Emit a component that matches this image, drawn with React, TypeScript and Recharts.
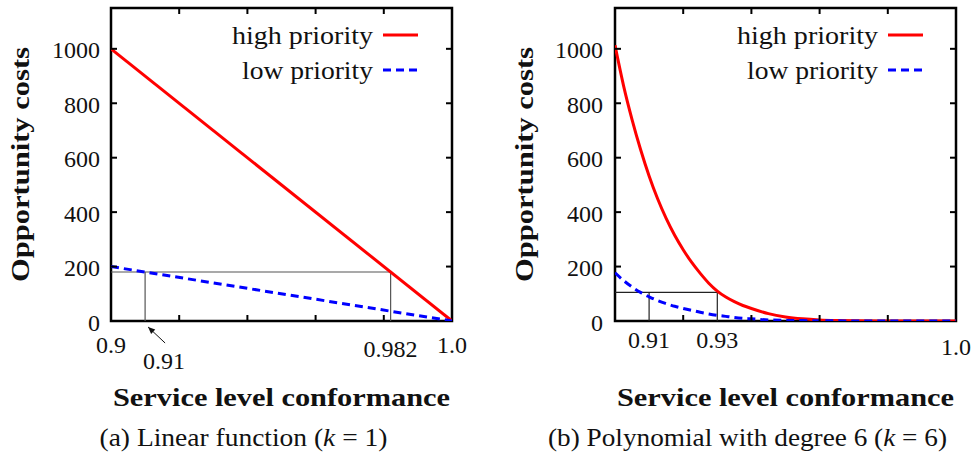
import React from 'react';
import {
  LineChart,
  Line,
  XAxis,
  YAxis,
  ReferenceLine,
  ReferenceArea,
  Legend,
  Label,
} from 'recharts';

// shared axes
const X_DOMAIN = [0.9, 1.0];
const Y_DOMAIN = [0, 1150];
const X_TICKS = [0.9, 0.92, 0.94, 0.96, 0.98, 1.0];
const Y_TICKS = [0, 200, 400, 600, 800, 1000];

// (a) linear function, k = 1
const LIN_X = [0.9, 1.0];
const LIN_HIGH = [1000, 0];
const LIN_LOW = [200, 0];
const LIN_LABELS = [0.9, 0.91, 0.982, 1.0];
const LIN_LABEL_TEXT = ['0.9', '0.91', '0.982', '1.0'];
const LIN_BOX_Y = 180;
const LIN_BOX_X = [0.91, 0.982];

// (b) polynomial with degree 6, k = 6
const POLY_X = [
  0.9, 0.9025, 0.905, 0.9075, 0.91, 0.9125, 0.915, 0.9175, 0.92, 0.9225, 0.925, 0.9275,
  0.93, 0.9325, 0.935, 0.9375, 0.94, 0.945, 0.95, 0.955, 0.96, 0.965, 0.97, 0.98, 1.0,
];
const POLY_HIGH = [
  1013, 865, 740, 630, 533, 449, 377, 315, 262, 215, 175, 139,
  110, 88, 71, 57, 46, 27, 15, 8, 4, 2, 1, 0, 0,
];
const POLY_LOW = [
  177, 149, 125, 105, 89, 75, 64, 54, 46, 39, 32, 26,
  21, 17, 13, 10, 8, 4, 2.5, 1.5, 1, 0.5, 0.2, 0, 0,
];
const POLY_LABELS = [0.91, 0.93, 1.0];
const POLY_LABEL_TEXT = ['0.91', '0.93', '1.0'];
const POLY_BOX_Y = 105;
const POLY_BOX_X = [0.91, 0.93];

const FONT = "'Liberation Serif', serif";
const RED = '#ff0000';
const BLUE = '#0000ff';
const DASH = '8 5';
const PLOT_H = 313;
const TICK_LEN = 6;
const TICK_FONT = 24;
// widths of the wide (extended) lettering
const LEGEND_WIDTH: Record<string, number> = { 'high priority': 141, 'low priority': 131 };
const X_TITLE_WIDTH = 337;
const Y_TITLE_WIDTH = 235;

type Pt = { x: number; y: number };
type LabelPos = { dx?: number; dy: number; arrow?: { from: number[]; to: number[] } };

const toPoints = (xs: number[], ys: number[]): Pt[] => xs.map((x, i) => ({ x, y: ys[i] }));

interface PanelProps {
  left: number;
  width: number;
  margin: { top: number; right: number; bottom: number; left: number };
  high: Pt[];
  low: Pt[];
  curve: 'linear' | 'monotone';
  labels: number[];
  labelText: string[];
  labelPos: Record<string, LabelPos>;
  boxY: number;
  boxX: number[];
  boxStroke: string;
  yLabelGap: number;
  legendLeft: number;
  caption: React.ReactNode;
  captionWidth: number;
}

const arrowHead = (from: number[], to: number[]) => {
  const dx = to[0] - from[0];
  const dy = to[1] - from[1];
  const len = Math.hypot(dx, dy);
  const ux = dx / len;
  const uy = dy / len;
  const bx = to[0] - ux * 7;
  const by = to[1] - uy * 7;
  return `${to[0]},${to[1]} ${bx - uy * 3},${by + ux * 3} ${bx + uy * 3},${by - ux * 3}`;
};

const renderXTick = (p: PanelProps) => (props: any) => {
  const { x, y, payload } = props;
  const v: number = payload.value;
  const major = X_TICKS.includes(v) && v !== X_DOMAIN[0] && v !== X_DOMAIN[1];
  const li = p.labels.indexOf(v);
  const text = li >= 0 ? p.labelText[li] : null;
  const pos: LabelPos | null = text ? p.labelPos[text] ?? { dy: 24 } : null;
  return (
    <g>
      {major && (
        <>
          <line x1={x} x2={x} y1={y} y2={y - TICK_LEN} stroke="#000" strokeWidth={2} />
          <line x1={x} x2={x} y1={y - PLOT_H} y2={y - PLOT_H + TICK_LEN} stroke="#000" strokeWidth={2} />
        </>
      )}
      {text && pos && (
        <text
          x={x + (pos.dx ?? 0)}
          y={y + pos.dy}
          textAnchor="middle"
          dominantBaseline="central"
          fontFamily={FONT}
          fontSize={TICK_FONT}
          fill="#111"
        >
          {text}
        </text>
      )}
      {pos?.arrow && (
        <>
          <line
            x1={x + pos.arrow.from[0]}
            y1={y + pos.arrow.from[1]}
            x2={x + pos.arrow.to[0]}
            y2={y + pos.arrow.to[1]}
            stroke="#111"
            strokeWidth={1}
          />
          <polygon
            points={arrowHead(
              [x + pos.arrow.from[0], y + pos.arrow.from[1]],
              [x + pos.arrow.to[0], y + pos.arrow.to[1]]
            )}
            fill="#111"
          />
        </>
      )}
    </g>
  );
};

const renderYTick = (p: PanelProps, plotW: number) => (props: any) => {
  const { x, y, payload } = props;
  const v: number = payload.value;
  return (
    <g>
      {v !== 0 && (
        <>
          <line x1={x} x2={x + TICK_LEN} y1={y} y2={y} stroke="#000" strokeWidth={2} />
          <line x1={x + plotW - TICK_LEN} x2={x + plotW} y1={y} y2={y} stroke="#000" strokeWidth={2} />
        </>
      )}
      <text
        x={x - p.yLabelGap}
        y={y + 1.5}
        textAnchor="end"
        dominantBaseline="central"
        fontFamily={FONT}
        fontSize={TICK_FONT}
        fill="#111"
      >
        {v}
      </text>
    </g>
  );
};

const renderLegend = (props: any) => {
  const { payload } = props;
  return (
    <svg width={200} height={80}>
      {(payload ?? []).map((entry: any, i: number) => (
        <g key={entry.value}>
          <text
            x={150}
            y={17 + i * 35}
            textAnchor="end"
            dominantBaseline="central"
            fontFamily={FONT}
            fontSize={25}
            fill="#111"
            textLength={LEGEND_WIDTH[entry.value]}
            lengthAdjust="spacingAndGlyphs"
          >
            {entry.value}
          </text>
          <line
            x1={160}
            x2={195}
            y1={17 + i * 35}
            y2={17 + i * 35}
            stroke={entry.color}
            strokeWidth={3}
            strokeDasharray={entry.payload?.strokeDasharray}
          />
        </g>
      ))}
    </svg>
  );
};

const Panel: React.FC<PanelProps> = (p) => {
  // axes take 1px each, the rest of the offset is margin
  const plotW = p.width - p.margin.left - p.margin.right - 1;
  const ticks = Array.from(new Set([...X_TICKS, ...p.labels])).sort((a, b) => a - b);
  const boxEnd = p.boxX[p.boxX.length - 1];

  return (
    <div style={{ position: 'absolute', left: p.left, top: 0 }}>
      <LineChart width={p.width} height={452} margin={p.margin}>
        <XAxis
          dataKey="x"
          type="number"
          domain={X_DOMAIN}
          allowDataOverflow
          ticks={ticks}
          interval={0}
          height={1}
          tickSize={0}
          tickMargin={0}
          axisLine={false}
          tickLine={false}
          tick={renderXTick(p)}
        >
          <Label
            content={(lp: any) => {
              const vb = lp.viewBox;
              const cx = vb.x + vb.width / 2;
              return (
                <g fontFamily={FONT} fill="#111">
                  <text
                    x={cx}
                    y={vb.y + 76}
                    textAnchor="middle"
                    dominantBaseline="central"
                    fontSize={26}
                    fontWeight="bold"
                    textLength={X_TITLE_WIDTH}
                    lengthAdjust="spacingAndGlyphs"
                  >
                    Service level conformance
                  </text>
                  <text
                    x={cx - 38}
                    y={vb.y + 116}
                    textAnchor="middle"
                    dominantBaseline="central"
                    fontSize={25}
                    textLength={p.captionWidth}
                    lengthAdjust="spacingAndGlyphs"
                  >
                    {p.caption}
                  </text>
                </g>
              );
            }}
          />
        </XAxis>
        <YAxis
          type="number"
          domain={Y_DOMAIN}
          allowDataOverflow
          ticks={Y_TICKS}
          interval={0}
          width={1}
          tickSize={0}
          tickMargin={0}
          axisLine={false}
          tickLine={false}
          tick={renderYTick(p, plotW)}
        >
          <Label
            content={(lp: any) => {
              const vb = lp.viewBox;
              const cx = vb.x + vb.width - 91;
              const cy = vb.y + vb.height / 2;
              return (
                <text
                  x={cx}
                  y={cy}
                  transform={`rotate(-90 ${cx} ${cy})`}
                  textAnchor="middle"
                  dominantBaseline="central"
                  fontFamily={FONT}
                  fontSize={26}
                  fontWeight="bold"
                  fill="#111"
                  textLength={Y_TITLE_WIDTH}
                  lengthAdjust="spacingAndGlyphs"
                >
                  Opportunity costs
                </text>
              );
            }}
          />
        </YAxis>

        {/* guide box between the two curves */}
        <ReferenceLine
          segment={[{ x: X_DOMAIN[0], y: p.boxY }, { x: boxEnd, y: p.boxY }]}
          stroke={p.boxStroke}
          strokeWidth={1.2}
        />
        {p.boxX.map((bx) => (
          <ReferenceLine
            key={bx}
            segment={[{ x: bx, y: 0 }, { x: bx, y: p.boxY }]}
            stroke={p.boxStroke}
            strokeWidth={1.2}
          />
        ))}

        <Line
          data={p.high}
          dataKey="y"
          name="high priority"
          type={p.curve}
          stroke={RED}
          strokeWidth={3}
          dot={false}
          activeDot={false}
          isAnimationActive={false}
        />
        <Line
          data={p.low}
          dataKey="y"
          name="low priority"
          type={p.curve}
          stroke={BLUE}
          strokeWidth={3}
          strokeDasharray={DASH}
          dot={false}
          activeDot={false}
          isAnimationActive={false}
        />

        <ReferenceArea
          x1={X_DOMAIN[0]}
          x2={X_DOMAIN[1]}
          y1={Y_DOMAIN[0]}
          y2={Y_DOMAIN[1]}
          fill="none"
          fillOpacity={0}
          stroke="#000"
          strokeWidth={2.5}
        />

        <Legend
          layout="vertical"
          align="center"
          verticalAlign="middle"
          content={renderLegend}
          wrapperStyle={{ left: p.legendLeft, top: 18, width: 200, height: 80 }}
        />
      </LineChart>
    </div>
  );
};

const App: React.FC = () => {
  return (
    <div
      style={{
        position: 'absolute',
        left: 0,
        top: 0,
        width: 975,
        height: 452,
        background: '#fff',
        fontFamily: FONT,
      }}
    >
      <Panel
        left={0}
        width={490}
        margin={{ top: 8, right: 38, bottom: 130, left: 110 }}
        high={toPoints(LIN_X, LIN_HIGH)}
        low={toPoints(LIN_X, LIN_LOW)}
        curve="linear"
        labels={LIN_LABELS}
        labelText={LIN_LABEL_TEXT}
        labelPos={{
          '0.9': { dy: 24 },
          '0.91': { dx: 19, dy: 40, arrow: { from: [20, 22], to: [3, 6] } },
          '0.982': { dy: 27.5 },
          '1.0': { dy: 24 },
        }}
        boxY={LIN_BOX_Y}
        boxX={LIN_BOX_X}
        boxStroke="#555"
        yLabelGap={11}
        legendLeft={223}
        captionWidth={288}
        caption={
          <>
            <tspan>(a) Linear function (</tspan>
            <tspan fontStyle="italic">k</tspan>
            <tspan> = 1)</tspan>
          </>
        }
      />
      <Panel
        left={490}
        width={485}
        margin={{ top: 8, right: 19, bottom: 130, left: 124 }}
        high={toPoints(POLY_X, POLY_HIGH)}
        low={toPoints(POLY_X, POLY_LOW)}
        curve="monotone"
        labels={POLY_LABELS}
        labelText={POLY_LABEL_TEXT}
        labelPos={{
          '0.91': { dy: 19 },
          '0.93': { dy: 19 },
          '1.0': { dy: 26 },
        }}
        boxY={POLY_BOX_Y}
        boxX={POLY_BOX_X}
        boxStroke="#222"
        yLabelGap={12}
        legendLeft={238}
        captionWidth={399}
        caption={
          <>
            <tspan>(b) Polynomial with degree 6 (</tspan>
            <tspan fontStyle="italic">k</tspan>
            <tspan> = 6)</tspan>
          </>
        }
      />
    </div>
  );
};

export default App;
